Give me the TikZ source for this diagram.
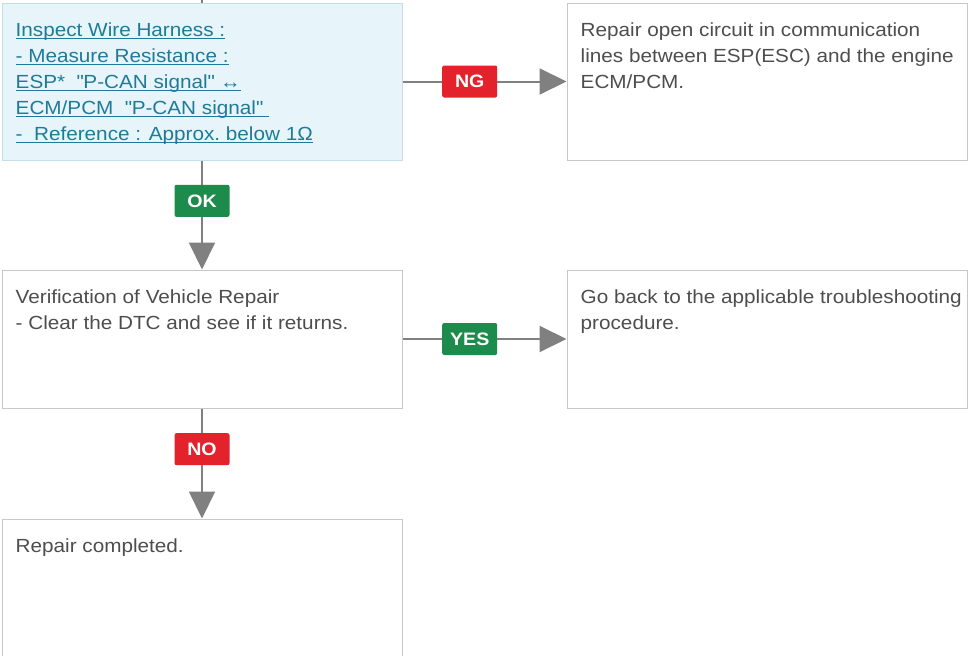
\documentclass[tikz,border=0pt]{standalone}
\usepackage{fontspec}
\setmainfont{Liberation Sans}[FakeStretch=1.09]
\usetikzlibrary{arrows.meta}
\usetikzlibrary{decorations.markings}
\definecolor{boxgray}{HTML}{C8C8C8}
\definecolor{checkline}{HTML}{C5DDE6}
\definecolor{checkfill}{HTML}{E7F5FA}
\definecolor{bluetext}{HTML}{1F7A9A}
\definecolor{textgray}{HTML}{4D4D4D}
\definecolor{linegray}{HTML}{808080}
\definecolor{ngred}{HTML}{E3222B}
\definecolor{okgreen}{HTML}{1D8B4B}
\newsavebox\ulbox
\newcommand{\uln}[1]{\sbox\ulbox{#1}\rlap{\rule[-2.6pt]{\wd\ulbox}{1.2pt}}\usebox\ulbox}
\newcommand{\qt}{\textquotedbl}
\tikzstyle{blockstyle}=[draw=boxgray, line width=1pt, minimum width=400pt, inner sep=0pt]
\tikzstyle{checkbox}=[blockstyle, draw=checkline, fill=checkfill]
\tikzstyle{textbox}=[anchor=north west, inner sep=0pt, align=left, text=textgray,
  font=\fontsize{19}{26}\selectfont]
\tikzstyle{blockstyle text}=[]
\tikzstyle{checkbox text}=[text=bluetext]
\tikzstyle{tag}=[text=white, font=\fontsize{18}{18}\selectfont\bfseries,
  minimum width=55pt, minimum height=32pt, inner sep=0pt, rounded corners=2pt]
\tikzset{
    big arrow/.style={
        decoration={markings,mark=at position 1 with {\arrow{Triangle[length=27pt,width=26pt]}}},
        postaction={decorate},
        shorten >=12pt}}
\tikzstyle{line} = [draw, line width=2pt, color=linegray, big arrow]
\newcommand{\block}[4]{node (p#1) [#2, minimum height=#3] {}
  node (t#1) [textbox, #2 text] at ([shift={(14,15.3)}]p#1.north west) {#4}}
\begin{document}
\begin{tikzpicture}[x=1pt, y=-1pt]
\useasboundingbox (0,0) rectangle (975,656);
% Draw diagram elements
\path (202,81.5)                 \block{1}{checkbox}{157}{\strut\uln{Inspect Wire Harness :}\\
  \uln{- Measure Resistance :}\\ \uln{ESP*\ \ \qt P-CAN signal\qt{} ↔}\\
  \uln{ECM/PCM\ \ \qt P-CAN signal\qt\ }\\ \uln{-\ \ Reference : Approx.\ below 1Ω}};
\path (p1.center) +(565,0)       \block{2}{blockstyle}{157}{\strut Repair open circuit in communication\\
  lines between ESP(ESC) and the engine\\ ECM/PCM.};
\path (p1.center) +(0,257.5)     \block{3}{blockstyle}{138}{\strut Verification of Vehicle Repair\\
  - Clear the DTC and see if it returns.};
\path (p3.center) +(565,0)       \block{4}{blockstyle}{138}{\strut Go back to the applicable troubleshooting\\
  procedure.};
\path (p3.center) +(0,258.5)     \block{5}{blockstyle}{157}{\strut Repair completed.};
\coordinate (entry) at (202,-10);

% Draw arrows between elements
\draw [line width=2pt, linegray] (entry) -- (p1);
\path [line] (p1) -- node [tag, fill=ngred, pos=0.41] {NG} (p2);
\path [line] (p1) -- node [tag, fill=okgreen, pos=0.37] {OK} (p3);
\path [line] (p3) -- node [tag, fill=okgreen, pos=0.41] {YES} (p4);
\path [line] (p3) -- node [tag, fill=ngred, pos=0.37] {NO} (p5);
\end{tikzpicture}
\end{document}
